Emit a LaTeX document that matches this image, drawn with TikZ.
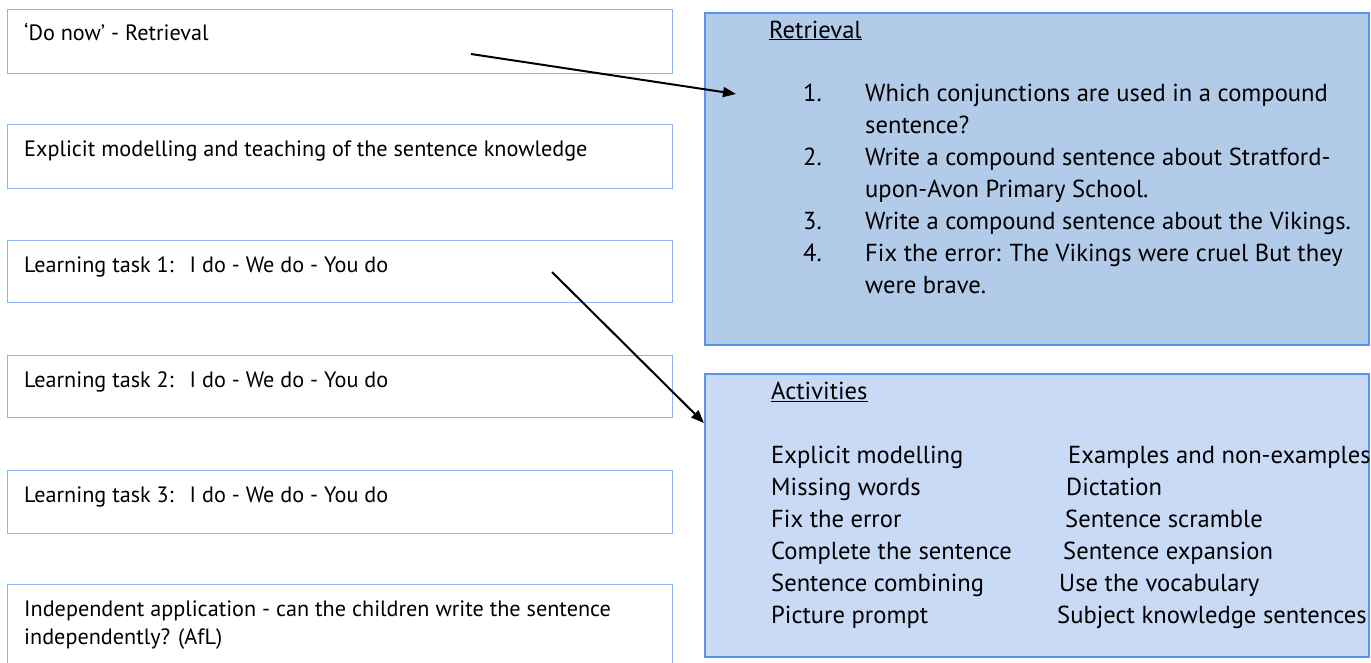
\documentclass[tikz,border=0pt]{standalone}
\usepackage{fontspec}
\setmainfont{PT Sans}
\usetikzlibrary{arrows.meta}
\definecolor{leftline}{HTML}{8FB3F4}
\definecolor{rightline}{HTML}{5A92EE}
\definecolor{retfill}{HTML}{B1CBE9}
\definecolor{actfill}{HTML}{C8DAF5}
\tikzset{
  leftbox/.style={draw=leftline, line width=1.4pt, fill=white, minimum width=665pt, anchor=north west, inner sep=0pt},
  retbox/.style={draw=rightline, line width=1.8pt, fill=retfill, minimum width=664pt, anchor=north west, inner sep=0pt},
  actbox/.style={draw=rightline, line width=1.8pt, fill=actfill, minimum width=664pt, anchor=north west, inner sep=0pt},
  lt/.style={anchor=base west, inner sep=0pt, font=\fontsize{22.2}{28}\selectfont, align=left},
  rt/.style={anchor=base west, inner sep=0pt, font=\fontsize{24.6}{32}\selectfont},
  conn/.style={line width=2pt, -{Triangle[length=13pt,width=10pt]}}
}
\begin{document}
\begin{tikzpicture}[x=1pt,y=-1pt]
\useasboundingbox (0,0) rectangle (1371,662);
\clip (0,0) rectangle (1371,662);
% left boxes
\node[leftbox, minimum height=64pt] (b1) at (7,9) {};
\node[leftbox, minimum height=64pt] (b2) at (7,124) {};
\node[leftbox, minimum height=62pt] (b3) at (7,240) {};
\node[leftbox, minimum height=62pt] (b4) at (7,355) {};
\node[leftbox, minimum height=63pt] (b5) at (7,470) {};
\node[leftbox, minimum height=90pt] (b6) at (7,584) {};
\node[lt] (t1) at (24,40) {‘Do now’ - Retrieval};
\node[lt] (t2) at (24,156) {Explicit modelling and teaching of the sentence knowledge};
\node[lt] (t3) at (24,272) {Learning task 1:\hspace{16pt}I do - We do - You do};
\node[lt] (t4) at (24,387) {Learning task 2:\hspace{16pt}I do - We do - You do};
\node[lt] (t5) at (24,502) {Learning task 3:\hspace{16pt}I do - We do - You do};
\node[lt] (t6a) at (24,616) {Independent application - can the children write the sentence};
\node[lt] (t6b) at (24,644) {independently? (AfL)};
% right boxes
\node[retbox, minimum height=332pt] (ret) at (704,12) {};
\node[actbox, minimum height=283pt] (act) at (704,373) {};
\node[rt] (rh) at (769,38) {\underline{Retrieval}};
\node[rt] (n1) at (803,101) {1.};
\node[rt] (q1a) at (865,101) {Which conjunctions are used in a compound};
\node[rt] (q1b) at (865,133) {sentence?};
\node[rt] (n2) at (803,165) {2.};
\node[rt] (q2a) at (865,165) {Write a compound sentence about Stratford-};
\node[rt] (q2b) at (865,197) {upon-Avon Primary School.};
\node[rt] (n3) at (803,229) {3.};
\node[rt] (q3) at (865,229) {Write a compound sentence about the Vikings.};
\node[rt] (n4) at (803,261) {4.};
\node[rt] (q4a) at (865,261) {Fix the error: The Vikings were cruel But they};
\node[rt] (q4b) at (865,293) {were brave.};
\node[rt] (ah) at (771,399) {\underline{Activities}};
\node[rt] (a1) at (771,463) {Explicit modelling};
\node[rt] (a2) at (771,495) {Missing words};
\node[rt] (a3) at (771,527) {Fix the error};
\node[rt] (a4) at (771,559) {Complete the sentence};
\node[rt] (a5) at (771,591) {Sentence combining};
\node[rt] (a6) at (771,623) {Picture prompt};
\node[rt] (c1) at (1068,463) {Examples and non-examples};
\node[rt] (c2) at (1066,495) {Dictation};
\node[rt] (c3) at (1065,527) {Sentence scramble};
\node[rt] (c4) at (1063,559) {Sentence expansion};
\node[rt] (c5) at (1059,591) {Use the vocabulary};
\node[rt] (c6) at (1057,623) {Subject knowledge sentences};
% connectors
\coordinate (s1) at (471,54);
\coordinate (e1) at (736,94);
\coordinate (s2) at (552,272);
\coordinate (e2) at (704,423);
\draw[conn] (s1) -- (e1);
\draw[conn] (s2) -- (e2);
\end{tikzpicture}
\end{document}
